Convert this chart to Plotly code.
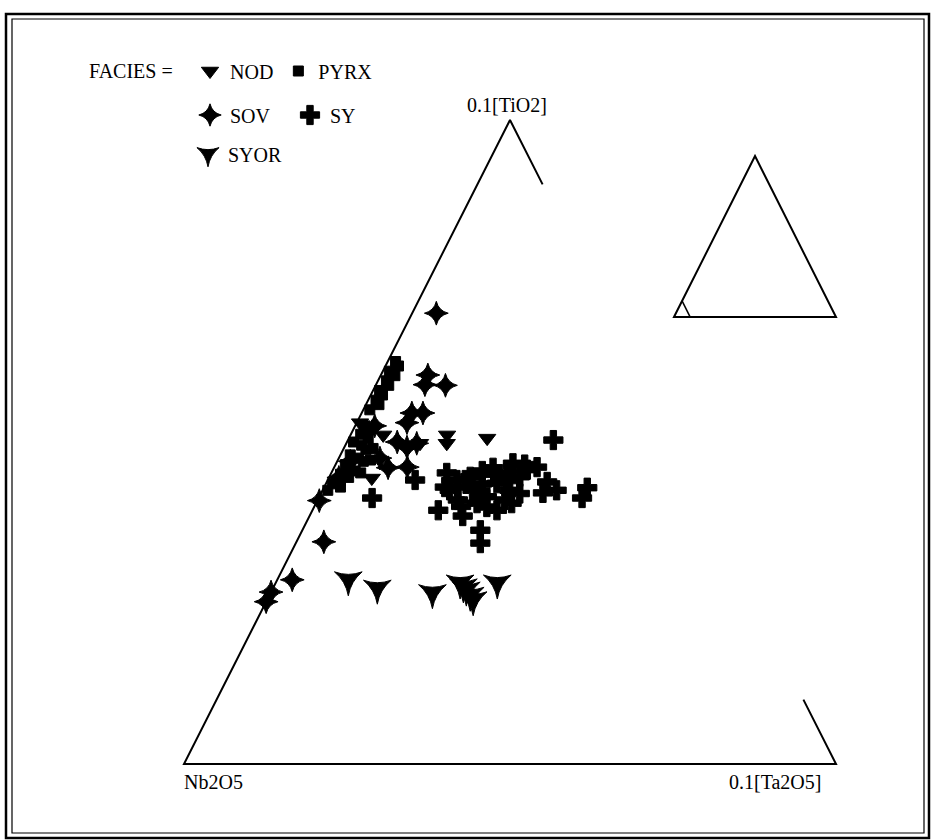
import plotly.graph_objects as go

# Ternary data: percentages of 0.1[TiO2] and 0.1[Ta2O5]
# (Nb2O5 is the remainder)
nod_ti = [51.1, 49.8, 51.1, 49.8, 50.6, 44.4, 53.0, 51.9]
nod_ta = [5.0, 11.3, 14.8, 15.4, 21.2, 6.6, 0.5, 2.1]

pyrx_ti = [62.5, 61.8, 61.0, 60.3, 59.5, 58.8, 58.0, 57.3, 56.5, 55.8, 55.0,
           52.5, 52.0, 51.2, 50.5, 50.0, 49.5, 48.8, 48.0, 47.5, 47.0, 46.5,
           46.0, 45.5, 45.0, 44.5, 44.0, 43.5, 43.0, 42.5, 49.0, 47.2, 45.2]
pyrx_ta = [1.2, 2.0, 1.0, 2.2, 1.3, 2.0, 1.0, 1.8, 1.2, 2.0, 1.0,
           1.5, 2.5, 1.5, 3.0, 1.0, 2.5, 3.5, 1.5, 3.0, 4.0, 1.5,
           2.5, 3.5, 1.5, 3.0, 2.0, 1.0, 2.5, 0.8, 4.5, 5.0, 4.5]

sov_ti = [70.0, 58.9, 58.8, 60.4, 54.5, 54.5, 53.0, 50.0, 49.2, 47.5,
          46.0, 46.1, 49.8, 40.9, 34.5, 28.6, 26.7, 25.2, 52.5, 47.0, 44.5]
sov_ta = [3.7, 7.5, 10.7, 7.2, 7.7, 9.4, 7.7, 7.7, 9.6, 6.3,
          8.3, 11.2, 10.8, 0.3, 4.2, 2.3, 0.0, 0.0, 3.0, 2.0, 1.5]

sy_ti = [50.3, 44.1, 41.3, 45.2, 42.5, 39.4, 44.1, 44.6, 42.5, 40.5,
         41.5, 46.0, 43.6, 45.2, 46.7, 44.6, 45.7, 46.1, 42.5, 39.4,
         42.1, 39.9, 43.8, 42.5, 42.1, 42.9, 41.3, 36.3, 34.3, 44.1, 41.0,
         43.0, 41.0, 45.5, 43.5, 40.0, 44.0, 42.0, 40.5, 45.0, 43.0, 38.5,
         46.5]
sy_ta = [31.5, 13.4, 8.2, 17.7, 19.5, 19.3, 19.8, 21.6, 23.0, 24.7,
         25.7, 24.4, 26.2, 26.9, 27.1, 29.2, 29.8, 31.1, 28.7, 28.3,
         24.4, 26.5, 33.8, 35.9, 34.0, 40.4, 40.4, 27.3, 28.3, 21.1, 28.7,
         18.5, 21.5, 23.0, 24.0, 22.5, 27.5, 30.5, 30.0, 25.0, 20.5, 23.5,
         29.0]

syor_ti = [28.6, 27.3, 26.6, 27.5, 26.2, 25.5, 28.1, 28.1, 27.0]
syor_ta = [10.9, 16.0, 24.8, 29.1, 30.8, 31.6, 34.0, 28.3, 29.8]


def project(ti, ta):
    # x across the base (Nb2O5 -> Ta2O5), y up to the TiO2 apex
    xs = [(a + t / 2) / 100 for t, a in zip(ti, ta)]
    ys = [t / 100 for t in ti]
    return xs, ys


W, H = 931, 840
serif = "Liberation Serif"

fig = go.Figure()

# triangle frame: left edge and base full, right edge only near its ends
fig.add_trace(go.Scatter(
    x=[0.95, 1, 0, 0.5, 0.55], y=[0.1, 0, 0, 1, 0.9],
    mode="lines", line=dict(color="black", width=2),
    showlegend=False, hoverinfo="skip"))

series = [
    ("NOD", nod_ti, nod_ta, "triangle-down", 15, "legend"),
    ("PYRX", pyrx_ti, pyrx_ta, "square", 10, "legend"),
    ("SOV", sov_ti, sov_ta, "star-diamond", 17, "legend2"),
    ("SY", sy_ti, sy_ta, "cross", 16, "legend2"),
    ("SYOR", syor_ti, syor_ta, "star-triangle-down", 20, "legend3"),
]
for name, ti, ta, sym, size, leg in series:
    xs, ys = project(ti, ta)
    fig.add_trace(go.Scatter(
        x=xs, y=ys, mode="markers", name=name, legend=leg,
        marker=dict(symbol=sym, size=size, color="black",
                    line=dict(width=1, color="black"))))

# small key triangle on the right
bl, ap, br = (0.7515, 0.694), (0.8758, 0.944), (1.0, 0.694)
tt = (bl[0] + 0.1 * (ap[0] - bl[0]), bl[1] + 0.1 * (ap[1] - bl[1]))
tr = (bl[0] + 0.1 * (br[0] - bl[0]), bl[1])
fig.add_shape(type="path", xref="x", yref="y",
              path=f"M {bl[0]},{bl[1]} L {ap[0]},{ap[1]} L {br[0]},{br[1]} Z",
              line=dict(color="black", width=2))
fig.add_shape(type="path", xref="x", yref="y",
              path=f"M {tt[0]},{tt[1]} L {tr[0]},{tr[1]}",
              line=dict(color="black", width=1.5))

# double border
fig.add_shape(type="rect", xref="paper", yref="paper",
              x0=6 / W, x1=929 / W, y0=1 - 838 / H, y1=1 - 14 / H,
              line=dict(color="black", width=2.5))
fig.add_shape(type="rect", xref="paper", yref="paper",
              x0=12 / W, x1=924 / W, y0=1 - 833 / H, y1=1 - 19 / H,
              line=dict(color="black", width=1.2))


def label(text, px, py, xanchor):
    fig.add_annotation(text=text, x=px / W, y=1 - py / H, xref="paper",
                       yref="paper", xanchor=xanchor, yanchor="middle",
                       showarrow=False,
                       font=dict(family=serif, size=20, color="black"))


label("0.1[TiO2]", 507, 105, "center")
label("Nb2O5", 182, 782, "left")
label("0.1[Ta2O5]", 823, 782, "right")
label("FACIES =", 87, 71, "left")

legend_style = dict(orientation="h", xanchor="left", yanchor="middle",
                    bgcolor="rgba(0,0,0,0)", itemclick=False,
                    font=dict(family=serif, size=20, color="black"))

fig.update_layout(
    width=W, height=H,
    margin=dict(l=0, r=0, t=0, b=0),
    paper_bgcolor="white", plot_bgcolor="white",
    xaxis=dict(range=[-184 / 652, 747 / 652], visible=False,
               fixedrange=True),
    yaxis=dict(range=[-76 / 644, 764 / 644], visible=False,
               fixedrange=True),
    legend=dict(x=190 / W, y=1 - 71 / H, **legend_style),
    legend2=dict(x=190 / W, y=1 - 115 / H, entrywidth=55, **legend_style),
    legend3=dict(x=188 / W, y=1 - 154 / H, **legend_style),
)

# the page's default body margin would shift the figure by 8px
fig.write_html("out.html", config={"displayModeBar": False},
               post_script="document.body.style.margin = '0';")
